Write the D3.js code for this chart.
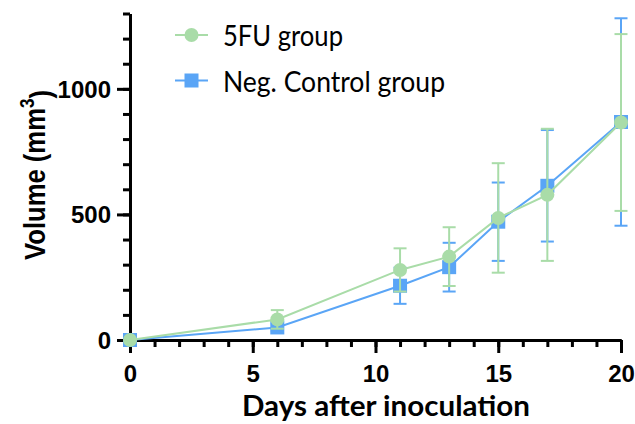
<!DOCTYPE html>
<html>
<head>
<meta charset="utf-8">
<script src="https://cdn.jsdelivr.net/npm/d3@7"></script>
<style>
  html, body { margin: 0; padding: 0; background: #fff; }
  svg { display: block; }
  .arialbold { font-family: "Liberation Sans", Arial, sans-serif; font-weight: bold; }
  .lato { font-family: "Lato", "Open Sans", sans-serif; }
</style>
</head>
<body>
<div id="chart"></div>
<script>
// days after inoculation
const days = [0, 6, 11, 13, 15, 17, 20];
// 5FU group: mean and error (mm3)
const fuMean = [0, 82, 279, 332, 486, 578, 866];
const fuErr = [0, 37, 86, 117, 218, 263, 352];
// negative control group
const negMean = [0, 50, 216, 290, 471, 614, 868];
const negErr = [0, 15, 72, 97, 156, 222, 413];

const xMajor = [0, 5, 10, 15, 20];
const yMajor = [0, 500, 1000];

const W = 635, H = 424;
const green = "#a9dca8", blue = "#5aa5f6";

let svg = d3.select("#chart").append("svg")
    .attr("width", W)
    .attr("height", H);

let x = d3.scaleLinear().domain([0, 20]).range([130, 621]);
let y = d3.scaleLinear().domain([0, 1300]).range([340, 13.5]);

// minor ticks first, then major axes on top
let xMinor = svg.append("g")
    .attr("transform", "translate(0," + y(0) + ")")
    .call(d3.axisBottom(x).tickValues(d3.range(0, 21)).tickSize(7).tickSizeOuter(0).tickFormat(""));
let yMinor = svg.append("g")
    .attr("transform", "translate(" + x(0) + ",0)")
    .call(d3.axisLeft(y).tickValues(d3.range(0, 1301, 100)).tickSize(7).tickSizeOuter(0).tickFormat(""));

let xAxis = svg.append("g")
    .attr("transform", "translate(0," + y(0) + ")")
    .call(d3.axisBottom(x).tickValues(xMajor).tickSize(13).tickSizeOuter(0).tickPadding(12).tickFormat(d3.format("d")));
let yAxis = svg.append("g")
    .attr("transform", "translate(" + x(0) + ",0)")
    .call(d3.axisLeft(y).tickValues(yMajor).tickSize(13).tickSizeOuter(0).tickPadding(6).tickFormat(d3.format("d")));

[xMinor, yMinor, xAxis, yAxis].forEach(g => {
    g.attr("font-family", null).attr("font-size", null);
    g.selectAll("path.domain").attr("stroke", "#000").attr("stroke-width", 3);
    g.selectAll(".tick line").attr("stroke", "#000").attr("stroke-width", 3);
});
[xAxis, yAxis].forEach(g => {
    g.selectAll(".tick text")
        .attr("class", "arialbold")
        .attr("fill", "#000")
        .style("font-size", "24px");
});
yAxis.selectAll(".tick text").attr("dy", "0.35em");

// axis titles
svg.append("text")
    .attr("class", "lato")
    .attr("x", 386)
    .attr("y", 416)
    .attr("text-anchor", "middle")
    .attr("textLength", 288)
    .attr("lengthAdjust", "spacingAndGlyphs")
    .style("font-weight", "bold")
    .style("font-size", "29px")
    .text("Days after inoculation");

let yTitle = svg.append("text")
    .attr("class", "arialbold")
    .attr("text-anchor", "middle")
    .style("font-size", "30px");
yTitle.append("tspan").text("Volume (mm");
yTitle.append("tspan").attr("dy", "-0.55em").style("font-size", "20px").text("3");
yTitle.append("tspan").attr("dy", "0.55em").text(")");
let yLen = yTitle.node().getComputedTextLength();
yTitle.attr("transform", "translate(45,175) rotate(-90) scale(" + (170 / yLen) + ",1)");

// series
const series = [
    { name: "Neg. Control group", mean: negMean, err: negErr, color: blue, shape: "square" },
    { name: "5FU group", mean: fuMean, err: fuErr, color: green, shape: "circle" }
];

let line = d3.line().x((d, i) => x(days[i])).y(d => y(d));
let capW = 6.5;

series.forEach(s => {
    let g = svg.append("g").attr("class", "series");
    let pts = days.map((d, i) => ({ day: d, v: s.mean[i], e: s.err[i] }));

    let eb = g.selectAll(".err").data(pts.filter(p => p.e > 0)).enter().append("g")
        .attr("stroke", s.color).attr("stroke-width", 2).attr("fill", "none");
    eb.append("line")
        .attr("x1", p => x(p.day)).attr("x2", p => x(p.day))
        .attr("y1", p => y(p.v + p.e)).attr("y2", p => y(p.v - p.e));
    eb.append("line")
        .attr("x1", p => x(p.day) - capW).attr("x2", p => x(p.day) + capW)
        .attr("y1", p => y(p.v + p.e)).attr("y2", p => y(p.v + p.e));
    eb.append("line")
        .attr("x1", p => x(p.day) - capW).attr("x2", p => x(p.day) + capW)
        .attr("y1", p => y(p.v - p.e)).attr("y2", p => y(p.v - p.e));

    g.append("path")
        .attr("d", line(s.mean))
        .attr("fill", "none")
        .attr("stroke", s.color)
        .attr("stroke-width", 2);

    if (s.shape === "circle") {
        g.selectAll("circle").data(pts).enter().append("circle")
            .attr("cx", p => x(p.day)).attr("cy", p => y(p.v)).attr("r", 7)
            .attr("fill", s.color);
    } else {
        g.selectAll("rect").data(pts).enter().append("rect")
            .attr("x", p => x(p.day) - 7).attr("y", p => y(p.v) - 7)
            .attr("width", 14).attr("height", 14)
            .attr("fill", s.color);
    }
});

// legend
const legendItems = [
    { name: "5FU group", color: green, shape: "circle", y: 35, len: 120 },
    { name: "Neg. Control group", color: blue, shape: "square", y: 80.5, len: 222 }
];
let legend = svg.append("g").attr("class", "legend");
legendItems.forEach(it => {
    legend.append("line")
        .attr("x1", 175).attr("x2", 208)
        .attr("y1", it.y).attr("y2", it.y)
        .attr("stroke", it.color).attr("stroke-width", 2);
    if (it.shape === "circle") {
        legend.append("circle").attr("cx", 191.5).attr("cy", it.y).attr("r", 7).attr("fill", it.color);
    } else {
        legend.append("rect").attr("x", 184.5).attr("y", it.y - 7).attr("width", 14).attr("height", 14).attr("fill", it.color);
    }
    legend.append("text")
        .attr("class", "lato")
        .attr("x", 223)
        .attr("y", it.y + 11)
        .attr("textLength", it.len)
        .attr("lengthAdjust", "spacingAndGlyphs")
        .style("font-size", "28px")
        .attr("fill", "#000")
        .text(it.name);
});
</script>
</body>
</html>
